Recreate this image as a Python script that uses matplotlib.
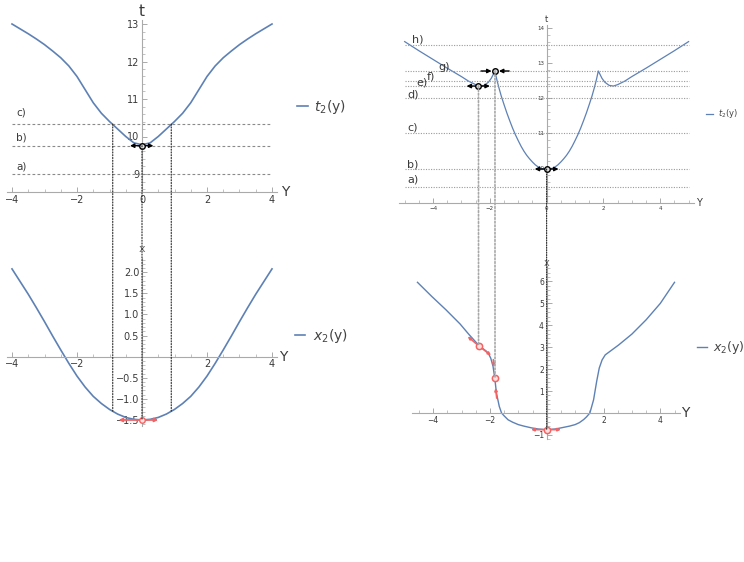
import matplotlib.pyplot as plt
from matplotlib.patches import ConnectionPatch
from matplotlib.ticker import MultipleLocator

# ---- data ----
# left panels: y, t2(y), x2(y)
y_left = [-4.0, -3.75, -3.5, -3.25, -3.0, -2.75, -2.5, -2.25, -2.0, -1.75, -1.5, -1.25, -1.0, -0.75, -0.5, -0.25,
          0.0, 0.25, 0.5, 0.75, 1.0, 1.25, 1.5, 1.75, 2.0, 2.25, 2.5, 2.75, 3.0, 3.25, 3.5, 3.75, 4.0]
t_left = [13.0, 12.87, 12.74, 12.6, 12.45, 12.28, 12.1, 11.88, 11.6, 11.25, 10.9, 10.62, 10.4, 10.2, 10.0, 9.83,
          9.78, 9.83, 10.0, 10.2, 10.4, 10.62, 10.9, 11.25, 11.6, 11.88, 12.1, 12.28, 12.45, 12.6, 12.74, 12.87, 13.0]
x_left = [2.08, 1.78, 1.48, 1.16, 0.83, 0.49, 0.16, -0.16, -0.46, -0.72, -0.94, -1.11, -1.25, -1.36, -1.44, -1.485,
          -1.50, -1.485, -1.44, -1.36, -1.25, -1.11, -0.94, -0.72, -0.46, -0.16, 0.16, 0.49, 0.83, 1.16, 1.48, 1.78, 2.08]
levels_left = [9.0, 9.755, 10.33]
names_left = ["a)", "b)", "c)"]
label_t_left = [9.2, 9.98, 10.63]

# right panels
y_rt = [-5.0, -4.5, -4.0, -3.5, -3.0, -2.75, -2.5, -2.35, -2.2, -2.05, -1.95, -1.87, -1.82, -1.75, -1.68, -1.6,
        -1.5, -1.4, -1.3, -1.2, -1.1, -1.0, -0.9, -0.8, -0.7, -0.6, -0.5, -0.4, -0.3, -0.2, -0.1,
        0.0, 0.1, 0.2, 0.3, 0.4, 0.5, 0.6, 0.7, 0.8, 0.9, 1.0, 1.1, 1.2, 1.3, 1.4, 1.5,
        1.6, 1.68, 1.75, 1.82, 1.87, 1.95, 2.05, 2.2, 2.35, 2.5, 2.75, 3.0, 3.5, 4.0, 4.5, 5.0]
t_rt = [13.62, 13.36, 13.11, 12.86, 12.62, 12.49, 12.39, 12.35, 12.37, 12.46, 12.57, 12.70, 12.78, 12.52, 12.30, 12.07,
        11.82, 11.58, 11.36, 11.15, 10.96, 10.79, 10.63, 10.49, 10.37, 10.27, 10.18, 10.10, 10.04, 10.0, 9.98,
        9.97, 9.98, 10.0, 10.04, 10.10, 10.18, 10.27, 10.37, 10.49, 10.63, 10.79, 10.96, 11.15, 11.36, 11.58, 11.82,
        12.07, 12.30, 12.52, 12.78, 12.70, 12.57, 12.46, 12.37, 12.35, 12.39, 12.49, 12.62, 12.86, 13.11, 13.36, 13.62]
y_rx = [-4.55, -4.05, -3.55, -3.05, -2.75, -2.38, -2.12, -2.04, -1.97, -1.89, -1.83, -1.77, -1.67, -1.59, -1.5,
        -1.36, -1.2, -1.0, -0.8, -0.53, -0.3, 0.0, 0.3, 0.5, 0.8, 1.0, 1.15, 1.3, 1.4, 1.52, 1.65, 1.76, 1.85,
        1.95, 2.06, 2.3, 2.53, 3.0, 3.5, 4.0, 4.5]
x_rx = [5.96, 5.32, 4.71, 4.06, 3.6, 3.07, 2.81, 2.68, 2.5, 2.13, 1.6, 0.91, 0.3, 0.0, -0.13,
        -0.31, -0.42, -0.53, -0.6, -0.68, -0.73, -0.76, -0.73, -0.68, -0.6, -0.53, -0.44, -0.3, -0.18, 0.0, 0.6, 1.45, 2.05,
        2.42, 2.65, 2.88, 3.1, 3.6, 4.25, 5.0, 5.96]
levels_right = [9.48, 9.98, 11.0, 12.0, 12.35, 12.5, 12.78, 13.52]
names_right = ["a)", "b)", "c)", "d)", "e)", "f)", "g)", "h)"]
label_pos_right = [(-4.92, 9.67), (-4.92, 10.12), (-4.92, 11.17), (-4.92, 12.11), (-4.6, 12.45),
                   (-4.23, 12.62), (-3.82, 12.89), (-4.75, 13.67)]

# marked points and arrows (start, end)
pts_tl = [(0, 9.755)]
arr_tl = [((0, 9.755), (-0.37, 9.755)), ((0, 9.755), (0.35, 9.755))]
pts_bl = [(0, -1.5)]
arr_bl = [((0, -1.5), (-0.72, -1.5)), ((0, -1.5), (0.5, -1.5))]
pts_tr = [(-2.4, 12.35), (-1.82, 12.78), (0, 9.98)]
arr_tr = [((-2.4, 12.35), (-2.82, 12.35)), ((-2.4, 12.35), (-2.0, 12.35)),
          ((-2.31, 12.78), (-1.94, 12.78)), ((-1.32, 12.78), (-1.68, 12.78)),
          ((0, 9.98), (-0.42, 9.98)), ((0, 9.98), (0.42, 9.98))]
pts_br = [(-2.4, 3.07), (-1.83, 1.6), (0, -0.76)]
arr_br = [((-2.4, 3.07), (-2.78, 3.49)), ((-2.4, 3.07), (-1.96, 2.63)),
          ((-1.88, 2.43), (-1.85, 2.1)), ((-1.76, 0.68), (-1.8, 1.15)),
          ((0, -0.76), (-0.55, -0.76)), ((0, -0.76), (0.5, -0.76))]
links_left = [(-0.9, 10.33, -1.29), (0.9, 10.33, -1.29), (0.0, 9.755, -1.5)]
links_right = [(-2.4, 12.35, 3.07, "#a8a8a8"), (-1.82, 12.78, 1.6, "#a8a8a8"), (0.0, 9.98, -0.76, "#222222")]

BLUE = "#5e81b5"
RED = "#f26464"
AXC = "#aaaaaa"
TXT = "#3a3a3a"

W, H = 744, 562
fig = plt.figure(figsize=(W / 100, H / 100), dpi=100)


def px_axes(l, t, r, b):
    return fig.add_axes([l / W, 1 - b / H, (r - l) / W, (b - t) / H])


def style(ax, xlim, ylim, xbase, xticks, yticks, xminor, yminor, fs):
    ax.set_xlim(xlim)
    ax.set_ylim(ylim)
    ax.patch.set_visible(False)
    for s in ["top", "right"]:
        ax.spines[s].set_visible(False)
    ax.spines["left"].set_position(("data", 0))
    ax.spines["bottom"].set_position(("data", xbase))
    for s in ["left", "bottom"]:
        ax.spines[s].set_color(AXC)
        ax.spines[s].set_linewidth(0.8)
    ax.set_xticks(xticks)
    ax.set_yticks(yticks)
    ax.xaxis.set_minor_locator(MultipleLocator(xminor))
    ax.yaxis.set_minor_locator(MultipleLocator(yminor))
    ax.tick_params(which="both", direction="in", color=AXC, labelsize=fs, labelcolor=TXT, pad=2)
    ax.tick_params(which="major", length=3.5, width=0.7)
    ax.tick_params(which="minor", length=2, width=0.5)


def arrow(ax, start, end, color, ms=6, lw=1.0):
    ax.annotate("", xy=end, xytext=start, annotation_clip=False, zorder=4,
                arrowprops=dict(arrowstyle="-|>", color=color, lw=lw, mutation_scale=ms,
                                shrinkA=0, shrinkB=0))


def legend(ax, x, y, fs, hl, pad):
    leg = ax.legend(loc="center left", bbox_to_anchor=(x / W, 1 - y / H), bbox_transform=fig.transFigure,
                    frameon=False, fontsize=fs, handlelength=hl, handletextpad=pad,
                    borderpad=0, borderaxespad=0)
    for t in leg.get_texts():
        t.set_color("#444444")


# ---- left top: t2(y) ----
ax1 = px_axes(6.8, 20.25, 277.2, 192)
style(ax1, (-4.16, 4.16), (8.52, 13.1), 8.52, [-4, -2, 0, 2, 4], [9, 10, 11, 12, 13], 0.5, 0.2, 7)
ax1.plot(y_left, t_left, color=BLUE, lw=1.2, label=r"$t_2$(y)")
ax1.hlines(levels_left, -4, 4, colors="#8a8a8a", linestyles=(0, (2.5, 2)), lw=0.8)
for name, lt in zip(names_left, label_t_left):
    ax1.text(-3.88, lt, name, fontsize=7.5, color=TXT, ha="left", va="center")
for s, e in arr_tl:
    arrow(ax1, s, e, "k")
ax1.plot(*zip(*pts_tl), "o", ms=4, mfc="#dddddd", mec="k", mew=1, zorder=5)
ax1.text(0, 13.34, "t", fontsize=11, color=TXT, ha="center", va="center")
ax1.text(4.4, 8.52, "Y", fontsize=10, color=TXT, ha="center", va="center")
legend(ax1, 297, 107, 10, 0.8, 0.4)

# ---- left bottom: x2(y) ----
ax2 = px_axes(6.8, 257.5, 277.2, 426.3)
style(ax2, (-4.16, 4.16), (-1.65, 2.35), 0, [-4, -2, 2, 4],
      [-1.5, -1.0, -0.5, 0.5, 1.0, 1.5, 2.0], 0.5, 0.1, 7)
ax2.plot(y_left, x_left, color=BLUE, lw=1.2, label=r"$x_2$(y)")
for s, e in arr_bl:
    arrow(ax2, s, e, RED, ms=5, lw=1.3)
ax2.plot(*zip(*pts_bl), "o", ms=4, mfc="#ffe0e0", mec=RED, mew=1, zorder=5)
ax2.text(0, 2.55, "x", fontsize=8, color="#666666", ha="center", va="center")
ax2.text(4.34, 0, "Y", fontsize=10, color=TXT, ha="center", va="center")
legend(ax2, 295, 336, 10, 0.72, 0.58)

for yv, tv, xv in links_left:
    fig.add_artist(ConnectionPatch(xyA=(yv, tv), coordsA=ax1.transData, xyB=(yv, xv), coordsB=ax2.transData,
                                   color="#222222", lw=0.8, linestyle=(0, (1, 1.5))))

# ---- right top: t2(y) ----
ax3 = px_axes(398.7, 24.8, 693.7, 203.3)
style(ax3, (-5.21, 5.18), (9.0, 14.1), 9.0, [-4, -2, 0, 2, 4], [10, 11, 12, 13, 14], 0.5, 0.2, 4)
ax3.plot(y_rt, t_rt, color=BLUE, lw=0.9, label=r"$t_2$(y)")
ax3.hlines(levels_right, -5, 5, colors="#9a9a9a", linestyles=(0, (1, 1.3)), lw=0.8)
for name, (lx, lt) in zip(names_right, label_pos_right):
    ax3.text(lx, lt, name, fontsize=8, color=TXT, ha="left", va="center")
for s, e in arr_tr:
    arrow(ax3, s, e, "k")
ax3.plot(*zip(*pts_tr), "o", ms=4, mfc="#dddddd", mec="k", mew=1, zorder=5)
ax3.text(0, 14.24, "t", fontsize=6, color=TXT, ha="center", va="center")
ax3.text(5.35, 9.0, "Y", fontsize=7, color=TXT, ha="center", va="center")
legend(ax3, 706, 114, 6, 0.84, 0.6)

# ---- right bottom: x2(y) ----
ax4 = px_axes(411.8, 266.1, 680.2, 439.3)
style(ax4, (-4.75, 4.7), (-1.2, 6.7), 0, [-4, -2, 2, 4], [-1, 1, 2, 3, 4, 5, 6], 0.5, 0.2, 5.5)
ax4.plot(y_rx, x_rx, color=BLUE, lw=1.0, label=r"$x_2$(y)")
for s, e in arr_br:
    arrow(ax4, s, e, RED, ms=4, lw=1.2)
ax4.plot(*zip(*pts_br), "o", ms=4.5, mfc="#ffe0e0", mec=RED, mew=1.1, zorder=5)
ax4.text(0, 6.84, "x", fontsize=7, color="#666666", ha="center", va="center")
ax4.text(4.88, 0, "Y", fontsize=10, color=TXT, ha="center", va="center")
legend(ax4, 697, 348, 9, 0.8, 0.48)

for yv, tv, xv, c in links_right:
    fig.add_artist(ConnectionPatch(xyA=(yv, tv), coordsA=ax3.transData, xyB=(yv, xv), coordsB=ax4.transData,
                                   color=c, lw=1.2 if c != "#222222" else 0.8, linestyle=(0, (1, 1.2))))

fig.savefig("out.png", dpi=100)
